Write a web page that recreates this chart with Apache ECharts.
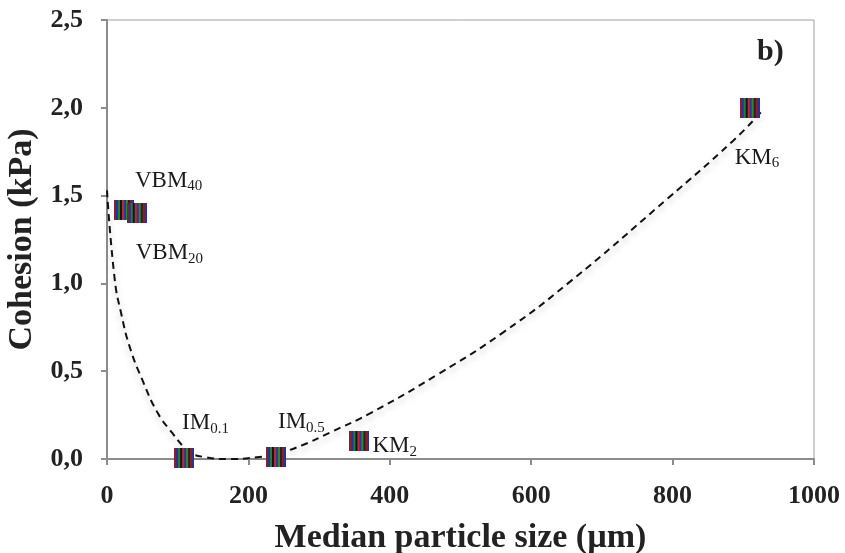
<!DOCTYPE html>
<html>
<head>
<meta charset="utf-8">
<script src="https://cdn.jsdelivr.net/npm/echarts@6/dist/echarts.min.js"></script>
<style>html,body{margin:0;padding:0;background:#fff}#c{width:845px;height:553px}</style>
</head>
<body>
<div id="c"></div>
<script>
// Data
var sampleNames = ['VBM40', 'VBM20', 'IM0.1', 'IM0.5', 'KM2', 'KM6'];
var sampleBase  = ['VBM', 'VBM', 'IM', 'IM', 'KM', 'KM'];
var sampleSub   = ['40', '20', '0.1', '0.5', '2', '6'];
var sizeUm      = [24, 42, 109, 239, 357, 909];
var cohesionKPa = [1.42, 1.40, 0.005, 0.01, 0.10, 2.00];
// dashed trend line
var trendX = [0, 11, 20, 32, 50, 72, 92, 108, 117, 140, 170, 212, 240, 277, 315, 372, 467, 560, 655, 792, 885, 926];
var trendY = [1.53, 1.02, 0.83, 0.64, 0.45, 0.26, 0.15, 0.07, 0.035, 0.01, 0.0, 0.01, 0.03, 0.08, 0.15, 0.26, 0.48, 0.72, 1.01, 1.48, 1.81, 1.98];
var xTicks = [0, 200, 400, 600, 800, 1000];
var yTicks = [0, 0.5, 1.0, 1.5, 2.0, 2.5];

// striped marker image
var pc = document.createElement('canvas');
pc.width = 20; pc.height = 20;
var pctx = pc.getContext('2d');
var stripes = ['#8a1f2c', '#2233a0', '#238030', '#151515', '#c0282f', '#2838a0', '#30882c', '#3a1a1a'];
for (var i = 0; i < 10; i++) { pctx.fillStyle = stripes[i % stripes.length]; pctx.fillRect(i * 2, 0, 2, 20); }
var markerImg = 'image://' + pc.toDataURL();

var labelOffsets = [[11, -29], [-1, 40], [-2, -35], [2, -35], [13, 5], [-15, 50]];

var pts = sizeUm.map(function (x, i) {
  return {
    value: [x, cohesionKPa[i]],
    name: sampleNames[i],
    label: {
      show: true,
      position: 'inside',
      align: 'left',
      verticalAlign: 'middle',
      offset: labelOffsets[i],
      formatter: '{a|' + sampleBase[i] + '}{s|' + sampleSub[i] + '}',
      rich: {
        a: { fontFamily: 'Liberation Serif', fontSize: 23, color: '#1a1a1a', lineHeight: 26 },
        s: { fontFamily: 'Liberation Serif', fontSize: 15, color: '#1a1a1a', lineHeight: 26, padding: [11, 0, 0, 0] }
      }
    }
  };
});
var trend = trendX.map(function (x, i) { return [x, trendY[i]]; });

var chart = echarts.init(document.getElementById('c'));
var tickFont = { fontFamily: 'Liberation Serif', fontWeight: 'bold', fontSize: 26, color: '#222' };
var nameFont = { fontFamily: 'Liberation Serif', fontWeight: 'bold', fontSize: 34, color: '#222' };
chart.setOption({
  animation: false,
  grid: { left: 107, right: 31, top: 20, bottom: 94, show: true, borderColor: '#a0a0a0', borderWidth: 1, containLabel: false, outerBoundsMode: 'none' },
  xAxis: {
    type: 'value', min: 0, max: 1000, interval: 200,
    name: 'Median particle size (µm)', nameLocation: 'middle', nameGap: 62,
    nameTextStyle: nameFont,
    axisLine: { show: true, lineStyle: { color: '#8c8c8c', width: 2 } },
    axisTick: { show: true, length: 6, lineStyle: { color: '#8c8c8c', width: 2 } },
    axisLabel: Object.assign({ margin: 24, formatter: function (v) { return xTicks.indexOf(v) >= 0 ? String(v) : ''; } }, tickFont),
    splitLine: { show: false }
  },
  yAxis: {
    type: 'value', min: 0, max: 2.5, interval: 0.5,
    name: 'Cohesion (kPa)', nameLocation: 'middle', nameGap: 65, nameRotate: 90,
    nameTextStyle: nameFont,
    axisLine: { show: true, lineStyle: { color: '#8c8c8c', width: 2 } },
    axisTick: { show: true, length: 6, lineStyle: { color: '#8c8c8c', width: 2 } },
    axisLabel: Object.assign({ margin: 24, formatter: function (v) { return v.toFixed(1).replace('.', ','); } }, tickFont),
    splitLine: { show: false }
  },
  series: [
    {
      type: 'line', data: trend, smooth: true, symbol: 'none', silent: true, z: 3,
      lineStyle: { color: '#111', width: 2, type: [7, 5], shadowColor: 'rgba(0,0,0,0.25)', shadowBlur: 6, shadowOffsetY: 4 }
    },
    {
      type: 'scatter', data: pts, symbol: markerImg, symbolSize: 20, z: 4,
      itemStyle: { opacity: 1 }
    }
  ],
  graphic: [
    { type: 'text', left: 757, top: 37, style: { text: 'b)', fontFamily: 'Liberation Serif', fontWeight: 'bold', fontSize: 30, fill: '#222' } }
  ]
});
</script>
</body>
</html>
